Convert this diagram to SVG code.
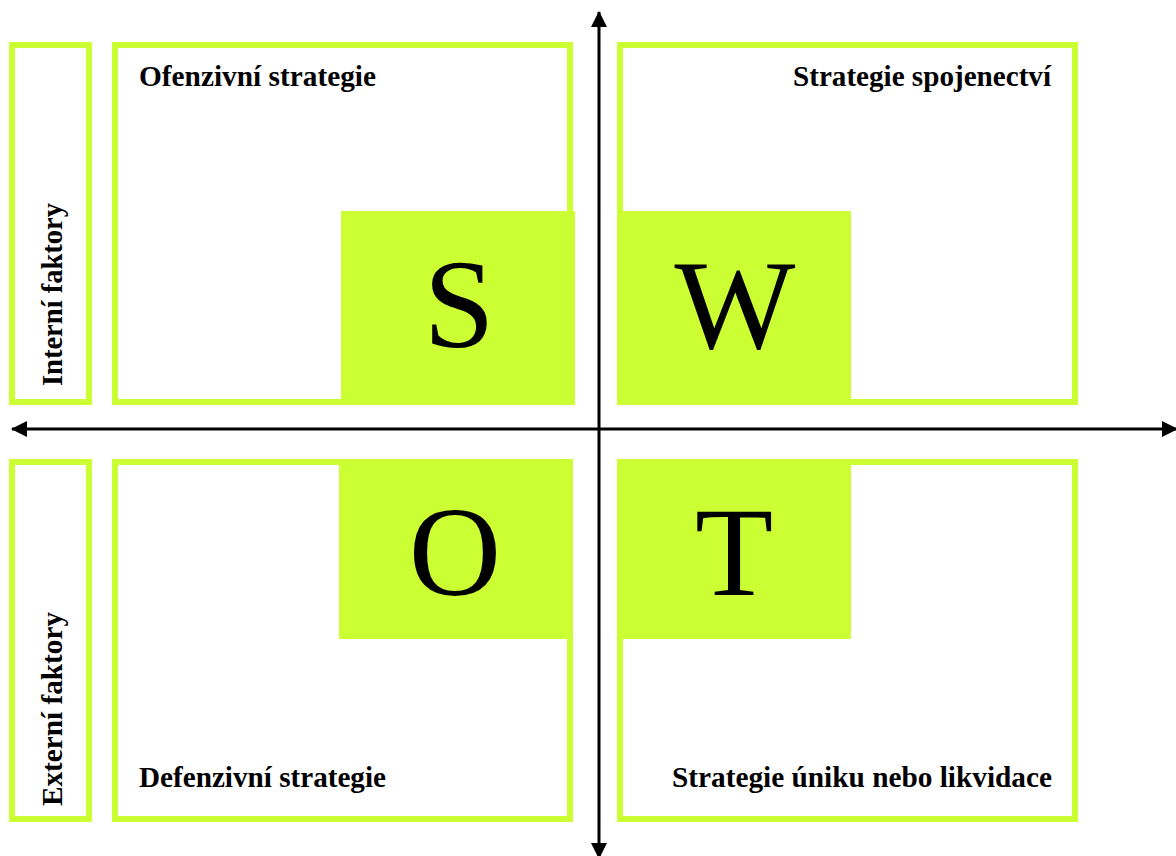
<svg xmlns="http://www.w3.org/2000/svg" width="1176" height="856" viewBox="0 0 1176 856">
<defs>
<style>
.box{fill:#ffffff;stroke:#ccff33;stroke-width:6}
.sq{fill:#ccff33;stroke:none}
.lbl{font-family:'Times New Roman','Liberation Serif',Times,serif;font-weight:bold;font-size:30px;fill:#000}
.big{font-family:'Times New Roman','Liberation Serif',Times,serif;font-size:128px;fill:#000;text-anchor:middle}
.axis{stroke:#000;stroke-width:3;fill:none}
</style>
<marker id="ah" viewBox="0 0 16 16" refX="15" refY="8" markerWidth="16" markerHeight="16" markerUnits="userSpaceOnUse" orient="auto-start-reverse">
<path d="M0,0 L16,8 L0,16 z" fill="#000"/>
</marker>
</defs>
<rect width="1176" height="856" fill="#ffffff"/>
<g id="interni">
<rect class="box" x="12" y="45" width="77" height="357"/>
<text class="lbl" transform="translate(62,386) rotate(-90)" textLength="183" lengthAdjust="spacingAndGlyphs">Interní faktory</text>
</g>
<g id="externi">
<rect class="box" x="12" y="462" width="77" height="357"/>
<text class="lbl" transform="translate(62,806) rotate(-90)" textLength="194" lengthAdjust="spacingAndGlyphs">Externí faktory</text>
</g>
<g id="ofenzivni">
<rect class="box" x="115" y="45" width="455" height="357"/>
<text class="lbl" x="139" y="86" textLength="237" lengthAdjust="spacingAndGlyphs">Ofenzivní strategie</text>
</g>
<g id="spojenectvi">
<rect class="box" x="620" y="45" width="455" height="357"/>
<text class="lbl" x="793" y="86" textLength="258" lengthAdjust="spacingAndGlyphs">Strategie spojenectví</text>
</g>
<g id="defenzivni">
<rect class="box" x="115" y="462" width="455" height="357"/>
<text class="lbl" x="139" y="787" textLength="247" lengthAdjust="spacingAndGlyphs">Defenzivní strategie</text>
</g>
<g id="unik">
<rect class="box" x="620" y="462" width="455" height="357"/>
<text class="lbl" x="672" y="787" textLength="380" lengthAdjust="spacingAndGlyphs">Strategie úniku nebo likvidace</text>
</g>
<g id="S">
<rect class="sq" x="341" y="211" width="234" height="194"/>
<text class="big" x="459" y="347">S</text>
</g>
<g id="W">
<rect class="sq" x="617" y="211" width="234" height="194"/>
<text class="big" x="735" y="348">W</text>
</g>
<g id="O">
<rect class="sq" x="339" y="459" width="234" height="180"/>
<text class="big" x="455" y="595">O</text>
</g>
<g id="T">
<rect class="sq" x="617" y="459" width="234" height="180"/>
<text class="big" x="734" y="595">T</text>
</g>
<g id="connectors">
<line class="axis" x1="599" y1="12" x2="599" y2="858" marker-start="url(#ah)" marker-end="url(#ah)"/>
<line class="axis" x1="12" y1="429" x2="1177" y2="429" marker-start="url(#ah)" marker-end="url(#ah)"/>
</g>
</svg>
